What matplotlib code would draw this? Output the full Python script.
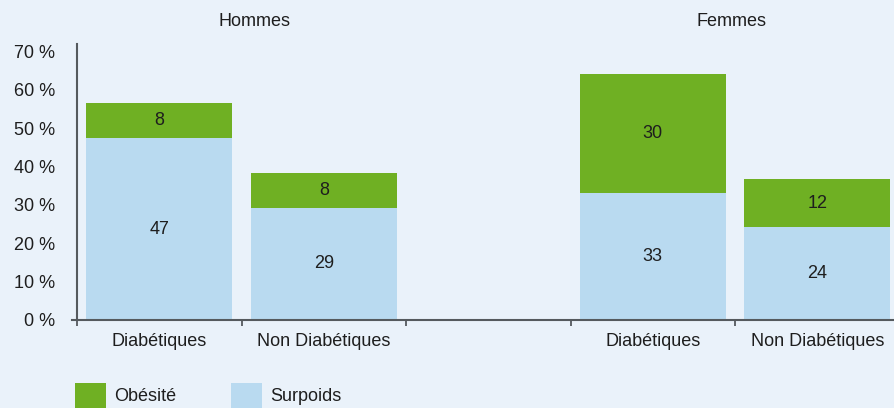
import matplotlib
matplotlib.use('Agg')
import matplotlib.pyplot as plt
import matplotlib.transforms as mtransforms
import numpy as np

# Data
groups = ['Hommes', 'Femmes']
categories = ['Diabétiques', 'Non Diabétiques', 'Diabétiques', 'Non Diabétiques']
positions = [0, 1, 3, 4]
surpoids = [47.4, 29.2, 33.0, 24.2]
obesite = [9.1, 9.1, 31.1, 12.5]
surpoids_labels = ['47', '29', '33', '24']
obesite_labels = ['8', '8', '30', '12']
yticks = [0, 10, 20, 30, 40, 50, 60, 70]

# Style
bg = '#eaf2fa'
green = '#6fb023'
blue = '#b9daf0'
axis_col = '#555a5e'
text_col = '#1e1e1e'
plt.rcParams['font.family'] = ['Liberation Sans', 'DejaVu Sans']
fs = 13

fig = plt.figure(figsize=(8.95, 4.08), dpi=100, facecolor=bg)
ax = fig.add_axes([77 / 895, 1 - 320 / 408, 822.5 / 895, 276 / 408])
ax.set_facecolor(bg)

width = 0.888
ax.bar(positions, surpoids, width, color=blue, label='Surpoids')
ax.bar(positions, obesite, width, bottom=surpoids, color=green, label='Obésité')

for x, s, o, sl, ol in zip(positions, surpoids, obesite, surpoids_labels, obesite_labels):
    ax.text(x, s / 2, sl, ha='center', va='center', fontsize=fs, color=text_col)
    ax.text(x, s + o / 2, ol, ha='center', va='center', fontsize=fs, color=text_col)

ax.set_xlim(-0.5, 4.5)
ax.set_ylim(0, 71.9)

# Axis lines
for side in ['top', 'right', 'bottom']:
    ax.spines[side].set_visible(False)
ax.spines['left'].set_color(axis_col)
ax.spines['left'].set_linewidth(1.5)
ax.axhline(0, xmin=-0.006, xmax=1, color=axis_col, lw=1.5, clip_on=False, zorder=5)

# Y ticks
ax.set_yticks(yticks)
ax.set_yticklabels(['%d %%' % v for v in yticks])
ax.tick_params(axis='y', length=0, pad=16, labelsize=fs, labelcolor=text_col)

# X ticks: marks at slot boundaries, labels under bars
ax.set_xticks(np.arange(-0.5, 5, 1))
ax.set_xticklabels([])
ax.tick_params(axis='x', which='major', direction='out', length=4.5, width=1.3, color=axis_col)
ax.set_xticks(positions, minor=True)
ax.set_xticklabels(categories, minor=True)
ax.tick_params(axis='x', which='minor', length=0, pad=9, labelsize=fs, labelcolor=text_col)

# Group titles
trans = mtransforms.blended_transform_factory(ax.transData, ax.transAxes)
ax.text(0.58, 1.08, groups[0], transform=trans, ha='center', va='center', fontsize=fs, color=text_col)
ax.text(3.48, 1.08, groups[1], transform=trans, ha='center', va='center', fontsize=fs, color=text_col)

# Legend (Obésité first), runs off the bottom edge like the original
handles, labels = ax.get_legend_handles_labels()
fig.legend(handles[::-1], labels[::-1], loc='upper left', bbox_to_anchor=(75 / 895, 25 / 408),
           bbox_transform=fig.transFigure, ncol=2, frameon=False, fontsize=fs,
           handlelength=1.72, handleheight=1.75, handletextpad=0.44, columnspacing=3.05,
           borderpad=0, borderaxespad=0, labelcolor=text_col)

fig.savefig('out.png', dpi=100, facecolor=bg)
